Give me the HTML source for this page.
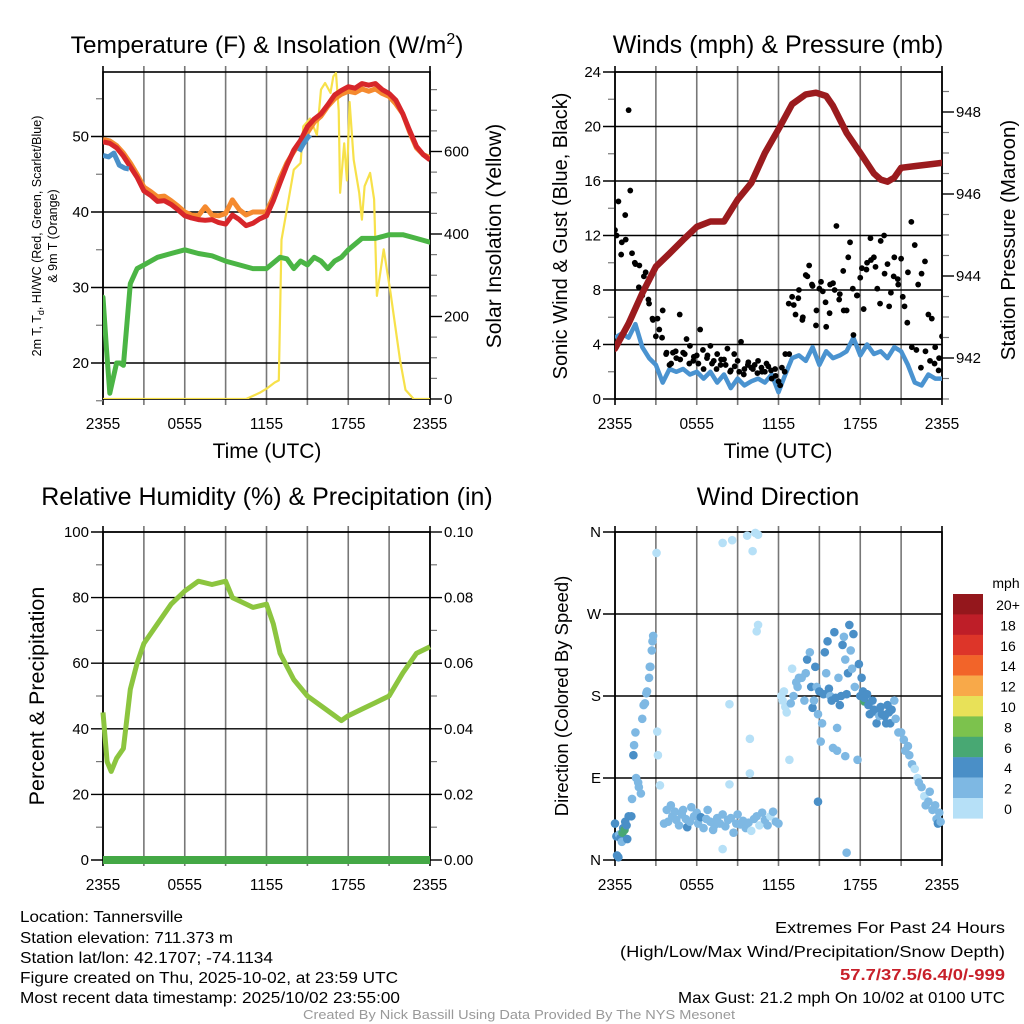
<!DOCTYPE html>
<html><head><meta charset="utf-8"><style>
html,body{margin:0;padding:0;background:#fff;}
svg{display:block;font-family:"Liberation Sans",sans-serif;}
</style></head><body>
<svg id="chart" width="1024" height="1024" viewBox="0 0 1024 1024" xmlns="http://www.w3.org/2000/svg">
<rect width="1024" height="1024" fill="#fff"/>
<g id="g1"></g>
<g id="g2"></g>
<g id="g3"></g>
<g id="g4"></g>

<text x="267" y="53" font-size="24.5" text-anchor="middle">Temperature (F) &amp; Insolation (W/m<tspan dy="-9" font-size="16">2</tspan><tspan dy="9">)</tspan></text>
<text x="778" y="53" font-size="25" text-anchor="middle">Winds (mph) &amp; Pressure (mb)</text>
<text x="267" y="505" font-size="25" text-anchor="middle">Relative Humidity (%) &amp; Precipitation (in)</text>
<text x="778" y="505" font-size="25" text-anchor="middle">Wind Direction</text>

<text x="267" y="458" font-size="21" text-anchor="middle">Time (UTC)</text>
<text x="778" y="458" font-size="21" text-anchor="middle">Time (UTC)</text>

<text transform="translate(41,236) rotate(-90)" font-size="12.5" text-anchor="middle">2m T, T<tspan dy="3" font-size="9">d</tspan><tspan dy="-3">, HI/WC (Red, Green, Scarlet/Blue)</tspan></text>
<text transform="translate(57,236) rotate(-90)" font-size="12.5" text-anchor="middle">&amp; 9m T (Orange)</text>
<text transform="translate(501,236) rotate(-90)" font-size="21" text-anchor="middle">Solar Insolation (Yellow)</text>
<text transform="translate(567,236) rotate(-90)" font-size="20" text-anchor="middle">Sonic Wind &amp; Gust (Blue, Black)</text>
<text transform="translate(1015,240) rotate(-90)" font-size="20.5" text-anchor="middle">Station Pressure (Maroon)</text>
<text transform="translate(44,696) rotate(-90)" font-size="21.5" text-anchor="middle">Percent &amp; Precipitation</text>
<text transform="translate(568,696) rotate(-90)" font-size="18.5" text-anchor="middle">Direction (Colored By Speed)</text>

<g id="cbar"></g>
<text x="1006" y="588" font-size="14" text-anchor="middle">mph</text>

<g font-size="16" lengthAdjust="spacingAndGlyphs">
<text x="20" y="922" textLength="163" lengthAdjust="spacingAndGlyphs">Location: Tannersville</text>
<text x="20" y="943" textLength="213" lengthAdjust="spacingAndGlyphs">Station elevation: 711.373 m</text>
<text x="20" y="963" textLength="253" lengthAdjust="spacingAndGlyphs">Station lat/lon: 42.1707; -74.1134</text>
<text x="20" y="983" textLength="378" lengthAdjust="spacingAndGlyphs">Figure created on Thu, 2025-10-02, at 23:59 UTC</text>
<text x="20" y="1003" textLength="380" lengthAdjust="spacingAndGlyphs">Most recent data timestamp: 2025/10/02 23:55:00</text>
</g>
<g font-size="16">
<text x="775" y="933" textLength="230" lengthAdjust="spacingAndGlyphs">Extremes For Past 24 Hours</text>
<text x="620" y="957" textLength="385" lengthAdjust="spacingAndGlyphs">(High/Low/Max Wind/Precipitation/Snow Depth)</text>
<text x="840" y="980" textLength="165" lengthAdjust="spacingAndGlyphs" font-weight="bold" fill="#c8202a">57.7/37.5/6.4/0/-999</text>
<text x="678" y="1003" textLength="327" lengthAdjust="spacingAndGlyphs">Max Gust: 21.2 mph On 10/02 at 0100 UTC</text>
</g>
<text x="303" y="1019" font-size="13" textLength="432" lengthAdjust="spacingAndGlyphs" fill="#999">Created By Nick Bassill Using Data Provided By The NYS Mesonet</text>
</svg>
<script>
// ---- data ----
const hourTicks = [0,6,12,18,24];
const hourTickLabels = ["2355","0555","1155","1755","2355"];
const halfHourly = [0,0.5,1,1.5,2,2.5,3,3.5,4,4.5,5,5.5,6,6.5,7,7.5,8,8.5,9,9.5,10,10.5,11,11.5,12,12.5,13,13.5,14,14.5,15,15.5,16,16.5,17,17.5,18,18.5,19,19.5,20,20.5,21,21.5,22,22.5,23,23.5,24];
const temp2m = [49.3,49.1,48.5,47.4,46,44.6,42.8,42.2,41.4,41.5,41,40.3,39.5,39.2,39,38.9,39,38.6,38.4,39.6,39,38.2,38.5,39.1,39.5,41.5,43.9,46.2,48.2,49.5,51.3,52.3,53,54.2,55.5,56.1,56.6,56.4,57,56.8,57,56.2,55.7,54.8,53,50.8,48.7,47.6,46.9];
const temp9m = [49.6,49.4,48.8,47.8,46.5,45,43.3,42.7,42,42.1,41.5,40.8,40,39.6,39.5,40.7,39.6,39.5,39.8,41.6,40.3,39.6,40,40,40,42,44.5,46.5,48,49.3,50.5,51.9,52.7,54,55,55.6,56,55.8,56.3,56,56.3,55.7,55.3,54.3,53,50.6,48.5,47.6,47.2];
const hiwcTime = [0,0.4,0.8,1.2,1.6,1.9];
const hiwc = [47.5,47.3,47.8,46.2,45.8,45.7];
const hiwcTime2 = [14.4,14.7,15,15.2];
const hiwc2 = [48,49,49.8,50.2];
const dewTime = [0,0.25,0.5,0.75,1,1.25,1.5,1.75,2,2.5,3,4,5,6,7,8,9,10,11,12,13,13.5,14,14.5,15,15.5,16,16.5,17,17.5,18,19,20,21,22,23,24];
const dewpt = [28.7,22,16,18,20,20,19.7,25,30.5,32.5,33,34,34.5,35,34.5,34.2,33.5,33,32.5,32.5,34,33.8,32.5,33.5,33,34,33.5,32.5,33.5,34,35,36.5,36.5,37,37,36.5,36];
const solarTime = [0,10.5,11.5,12,12.6,12.9,13.1,13.5,14,14.5,14.7,15.2,15.7,16,16.3,16.7,16.9,17.1,17.3,17.4,17.7,17.9,18.1,18.4,18.8,19,19.2,19.6,19.9,20.1,20.6,21.1,21.8,22.2,22.8,24];
const solar = [0,0,15,25,40,45,386,460,556,572,661,680,640,750,766,742,782,790,700,500,620,530,720,580,500,435,516,548,484,250,363,258,95,22,0,0];
const pressureTime = [0,1,2,3,4,5,6,7,8,9,10,11,12,13,14,14.75,15.5,16,17,18,19,19.5,20,20.5,21,22,23,24];
const pressure = [942.23,942.84,943.58,944.23,944.55,944.88,945.2,945.33,945.33,945.86,946.27,947,947.58,948.19,948.43,948.47,948.39,948.15,947.49,947,946.5,946.35,946.3,946.4,946.64,946.68,946.72,946.76];
const windTime = [0,0.5,1,1.5,2,2.5,3,3.5,4,4.5,5,5.5,6,6.5,7,7.5,8,8.5,9,9.5,10,10.5,11,11.5,12,12.5,13,13.5,14,14.5,15,15.5,16,16.5,17,17.5,18,18.5,19,19.5,20,20.5,21,21.5,22,22.5,23,23.5,24];
const wind = [4.5,4.8,4.5,5.5,3.8,3,2.5,1.2,2.2,2,2.2,1.8,2,1.5,2,1.2,1.8,0.8,1.5,1,1.3,1.5,1.2,1.8,0.5,1.8,3,3.2,2.8,3.8,2.5,3.5,3,3.2,3.5,4.5,3.2,4,3.3,3.5,3,3.8,3.5,2.5,1.2,1,1.8,1.5,1.5];
const gusts = [12.4,14.5,11.5,13.5,21.2,10.7,9.9,8.2,7.6,9.3,7.0,5.9,4.6,5.1,6.5,3.3,2.5,3.4,3.0,6.2,3.4,4.4,3.9,2.8,3.2,5.1,2.2,3.0,3.9,2.8,3.3,2.5,2.9,3.7,2.1,3.3,2.8,4.2,2.2,2.5,2.3,2.5,2.8,2.3,2.0,2.4,1.5,2.2,1.3,2.3,3.3,7.0,7.5,6.2,8.0,5.8,9.1,9.8,8.3,5.4,8.1,7.9,5.3,6.3,8.5,12.7,7.7,9.4,6.5,11.5,4.7,7.6,8.9,6.6,10.0,11.8,10.4,8.1,11.6,12.0,9.9,7.8,10.4,8.8,10.3,6.8,9.3,13.0,11.3,8.4,9.2,10.1,6.2,5.9,3.8,2.1,4.6];
const gusts2 = [12,10.6,11.7,15.3,10,9.8,9,7.3,5.8,5.9,4.5,3.4,2.6,3.5,2.9,3.3,2.6,3.1,2.6,3.6,3.2,2.6,2.2,2.9,2.5,2.0,2.4,2.0,1.8,2.7,2.2,1.9,2.0,2.6,2.1,1.7,1.0,2.0,3.3,6.9,7.4,6.0,9.0,8.4,6.5,8.6,7.1,8.4,8.0,7.3,6.5,10.4,8.1,7.6,9.6,9.5,10.2,9.7,7.0,9.2,6.8,9.0,8.4,7.5,5.6,3.8,3.6,2.3,3.5,2.8,2.6,3.0];
const rhTime = [0,0.3,0.6,1,1.5,2,2.5,3,4,5,6,7,8,9,9.5,10,11,12,12.5,13,14,15,16,17,17.5,18,19,20,21,22,23,24];
const rh = [45,30,27,31,34,52,60,66,72,78,82,85,84,85,80,79,77,78,72,63,55,50,47,44,42.5,44,46,48,50,57,63,65];
const precipTime = [0,24];
const precip = [0,0];
const wdTime = [0,0.1,0.15,0.25,0.3,0.4,0.5,0.55,0.6,0.7,0.75,0.85,0.9,1.0,1.2,1.25,
 1.35,1.4,1.5,1.55,1.7,1.75,1.9,2.0,2.1,2.2,2.3,2.35,2.5,2.55,2.6,2.7,2.75,2.8,
 3.05,3.1,3.15,3.3,
 3.6,3.8,3.9,4.1,4.2,4.4,4.5,4.7,4.9,5.0,5.2,5.3,5.5,5.6,5.8,6.0,6.1,6.3,6.5,6.7,6.8,7.0,7.2,7.3,7.5,7.7,7.9,8.1,8.3,8.5,8.7,8.9,9.0,9.2,9.4,9.6,9.8,10.0,10.2,10.4,10.6,10.8,11.0,11.2,11.4,11.6,11.8,12.0,
 7.9,8.6,9.7,10.3,10.5,10.1,10.5,10.4,8.4,9.9,9.9,8.4,7.9,
 12.2,12.3,12.4,12.5,12.6,12.8,12.9,13.0,13.1,13.3,13.4,13.5,13.7,13.9,14.0,
 14.1,14.3,14.4,14.5,14.6,14.7,14.8,14.9,15.0,15.1,15.2,15.3,15.4,15.5,15.6,15.7,15.8,15.9,16.0,16.1,16.2,16.3,16.4,16.5,16.6,16.7,16.8,16.9,17.0,17.1,17.2,17.3,17.4,17.5,17.6,17.8,17.9,18.0,
 14.9,17.0,16.9,16.3,18.3,
 18.1,18.2,18.3,18.5,18.6,18.7,18.9,19.0,19.1,19.2,19.4,19.5,19.6,19.8,19.9,20.0,20.1,20.2,20.3,20.5,20.6,20.8,21.0,21.2,21.3,21.5,21.6,21.8,22.0,22.2,22.3,22.5,22.7,22.8,23.0,23.1,23.3,23.5,23.6,23.7,23.8,23.9];
const wdDir = [40,26,5,3,28,24,20,30,35,33,42,38,23,48,48,67,
 115,126,140,90,85,80,73,155,170,172,183,185,200,212,212,230,240,246,
 337,141,115,82,
 40,55,42,60,48,53,44,38,50,55,45,36,42,58,48,52,40,47,35,45,55,42,33,38,46,40,50,37,44,46,30,40,50,39,43,35,41,32,45,48,38,52,44,38,48,53,42,40,
 348,351,356,359,357,339,258,251,171,133,95,83,12,
 180,175,185,168,162,110,172,210,180,195,190,200,200,175,205,
 220,228,190,167,175,212,190,160,185,130,150,182,228,205,240,188,180,175,123,250,178,145,200,170,180,236,245,220,182,205,258,230,210,248,190,110,215,180,
 64,8,114,120,174,
 200,185,178,182,170,160,175,165,163,150,158,168,160,158,150,170,162,150,165,175,155,140,140,132,120,125,115,105,100,90,85,80,70,60,64,75,55,60,45,40,52,42];
const wdSpeed = [4,4,4,4,3,4,3,6,4,6,4,4,4,4,4,3,
 4,3,3,3,3,3,3,3,3,3,3,3,3,3,3,3,3,3,
 1,1,1,1,
 3,3,3,2,3,3,3,2,3,3,3,4,3,3,3,3,3,4,3,3,3,3,3,2,3,3,2,3,3,3,2,3,3,3,3,2,3,1,2,2,1,3,2,2,1,2,3,3,
 1,1,1,1,1,1,1,1,1,1,1,1,1,
 1,1,1,1,1,1,3,1,3,3,3,3,3,3,3,
 4,3,4,4,3,4,3,3,4,2,3,4,4,3,4,4,3,4,3,4,4,3,3,4,4,4,3,3,4,4,4,3,3,4,3,3,4,4,
 4,3,2,3,6,
 4,5,4,4,4,4,4,4,4,4,3,4,4,4,4,4,4,4,4,3,3,3,3,3,3,3,2,2,1,1,2,2,1,2,2,2,3,3,2,4,2,2];
const speedLabels = ["20+","18","16","14","12","10","8","6","4","2","0"];
const speedColors = ["#94171c","#be1e28","#dd3529","#f26429","#f8a949","#e8e158","#7cc24d","#48a873","#4a8fc7","#7eb8e3","#b6e0f7"];

// ---- helpers ----
const NS = "http://www.w3.org/2000/svg";
function mk(tag, attrs, parent){ const e=document.createElementNS(NS,tag); for(const k in attrs) e.setAttribute(k,attrs[k]); parent.appendChild(e); return e; }
function xScale(x0,x1){ return h => x0 + (x1-x0)*h/24; }
function linScale(v0,p0,v1,p1){ return v => p0 + (v-v0)*(p1-p0)/(v1-v0); }
function linePath(ts, vs, xf, yf){ let d=""; ts.forEach((t,i)=>{ d += (i?"L":"M")+xf(t).toFixed(1)+","+yf(vs[i]).toFixed(1); }); return d; }

function frame(g, x0,x1,y0,y1, leftTicks, leftLbl, lyf, leftMinor, rightTicks, rightLbl, ryf, rightMinor, xf, xlabY){
  for(let h=0; h<=24; h+=3){
    const l = mk("line",{x1:xf(h),x2:xf(h),y1:y0-6,y2:y1+6,stroke:(h%24===0)?"#000":"#777","stroke-width":1.6},g);
    
    
  }
  leftTicks.forEach((v,i)=>{
    const y=lyf(v);
    const l=mk("line",{x1:x0-12,x2:x1,y1:y,y2:y,stroke:"#000","stroke-width":1.4},g);
    
    
    const t=mk("text",{x:x0-14,y:y+5,"font-size":15,"text-anchor":"end"},g);
    t.textContent=leftLbl[i];
    
    
  });
  leftMinor.forEach(v=>{ const l=mk("line",{x1:x0-7,x2:x0,y1:lyf(v),y2:lyf(v),stroke:"#777","stroke-width":1.2},g);
      });
  if(rightTicks){
    rightTicks.forEach((v,i)=>{
      const y=ryf(v);
      const l=mk("line",{x1:x1,x2:x1+12,y1:y,y2:y,stroke:"#000","stroke-width":1.4},g);
      
      
      const t=mk("text",{x:x1+14,y:y+5,"font-size":15},g);
      t.textContent=rightLbl[i];
      
      
    });
    rightMinor.forEach(v=>{ const l=mk("line",{x1:x1,x2:x1+7,y1:ryf(v),y2:ryf(v),stroke:"#777","stroke-width":1.2},g);
        });
  }
  const r=mk("rect",{x:x0,y:y0,width:x1-x0,height:y1-y0,fill:"none",stroke:"#000","stroke-width":1.6},g);
  
  
  hourTicks.forEach((h,i)=>{
    const t=mk("text",{x:xf(h),y:xlabY,"font-size":15.5,"text-anchor":"middle"},g);
    t.textContent=hourTickLabels[i];
    
    
  });
}
function range(a,b,s){ const r=[]; for(let v=a; v<=b+1e-9; v+=s) r.push(+v.toFixed(4)); return r; }

// ---- panel 1 ----
(function(){
  const g=document.getElementById("g1");
  const x0=103,x1=430,y0=72,y1=399;
  const xf=xScale(x0,x1), yT=linScale(20,363,50,136.5), yS=linScale(0,399,600,151.5);
  frame(g,x0,x1,y0,y1,[20,30,40,50],["20","30","40","50"],yT,[15,25,35,45,55],
    [0,200,400,600],["0","200","400","600"],yS,[50,100,150,250,300,350,450,500,550,650,700,750],xf,429);
  const cl=mk("clipPath",{id:"c1"},g); mk("rect",{x:x0,y:y0-8,width:x1-x0,height:y1-y0+8},cl);
  const s=mk("g",{"clip-path":"url(#c1)"},g);
  const p1=mk("path",{d:linePath(solarTime,solar,xf,yS),fill:"none",stroke:"#f7e14a","stroke-width":2.2,"stroke-linejoin":"round"},s);
   
  const p2=mk("path",{d:linePath(dewTime,dewpt,xf,yT),fill:"none",stroke:"#4bb545","stroke-width":5,"stroke-linejoin":"round","stroke-linecap":"round"},s);
   
  const p3=mk("path",{d:linePath(halfHourly,temp9m,xf,yT),fill:"none",stroke:"#f58a2f","stroke-width":5,"stroke-linejoin":"round"},s);
   
  const p4=mk("path",{d:linePath(halfHourly,temp2m,xf,yT),fill:"none",stroke:"#d7262a","stroke-width":5,"stroke-linejoin":"round"},s);
   
  const p5=mk("path",{d:linePath(hiwcTime,hiwc,xf,yT),fill:"none",stroke:"#4a90c9","stroke-width":5,"stroke-linejoin":"round"},s);
   
  const p6=mk("path",{d:linePath(hiwcTime2,hiwc2,xf,yT),fill:"none",stroke:"#4a90c9","stroke-width":5,"stroke-linejoin":"round"},s);
   
})();

// ---- panel 2 ----
(function(){
  const g=document.getElementById("g2");
  const x0=615,x1=942,y0=72,y1=399;
  const xf=xScale(x0,x1), yW=linScale(0,399,24,72), yP=linScale(942,358,948,112);
  frame(g,x0,x1,y0,y1,[0,4,8,12,16,20,24],["0","4","8","12","16","20","24"],yW,[2,6,10,14,18,22],
    [942,944,946,948],["942","944","946","948"],yP,range(941,949,0.5).filter(v=>v%2!==0 && v<=948.9),xf,429);
  const cl=mk("clipPath",{id:"c2"},g); mk("rect",{x:x0,y:y0,width:x1-x0,height:y1-y0},cl);
  const s=mk("g",{"clip-path":"url(#c2)"},g);
  const p=mk("path",{d:linePath(windTime,wind,xf,yW),fill:"none",stroke:"#4a93d0","stroke-width":4.5,"stroke-linejoin":"round"},s);
   
  gusts.forEach((v,i)=>{
    const c=mk("circle",{cx:xf(i*0.25),cy:yW(v),r:2.9,fill:"#000"},s);
    
    
  });
  gusts2.forEach((v,i)=>{
    const c=mk("circle",{cx:xf(i/3+0.12),cy:yW(v),r:2.9,fill:"#000"},s);
    
    
  });
  const pp=mk("path",{d:linePath(pressureTime,pressure,xf,yP),fill:"none",stroke:"#9b1b1e","stroke-width":6.5,"stroke-linejoin":"round","stroke-linecap":"round"},s);
   
})();

// ---- panel 3 ----
(function(){
  const g=document.getElementById("g3");
  const x0=103,x1=430,y0=532,y1=860;
  const xf=xScale(x0,x1), yR=linScale(0,860,100,532), yPr=linScale(0,860,0.1,532);
  frame(g,x0,x1,y0,y1,[0,20,40,60,80,100],["0","20","40","60","80","100"],yR,[10,30,50,70,90],
    [0,0.02,0.04,0.06,0.08,0.1],["0.00","0.02","0.04","0.06","0.08","0.10"],yPr,[0.01,0.03,0.05,0.07,0.09],xf,890);
  const p=mk("path",{d:linePath(rhTime,rh,xf,yR),fill:"none",stroke:"#8cc53f","stroke-width":5,"stroke-linejoin":"round"},g);
   
  const q=mk("path",{d:linePath(precipTime,precip,xf,yPr),fill:"none",stroke:"#44a845","stroke-width":8},g);
   
})();

// ---- panel 4 ----
(function(){
  const g=document.getElementById("g4");
  const x0=615,x1=942,y0=532,y1=860;
  const xf=xScale(x0,x1), yD=linScale(0,860,360,532);
  frame(g,x0,x1,y0,y1,[0,90,180,270,360],["N","E","S","W","N"],yD,[],null,null,null,null,xf,890);
  const cl=mk("clipPath",{id:"c4"},g); mk("rect",{x:x0-6,y:y0-6,width:x1-x0+12,height:y1-y0+12},cl);
  const s=mk("g",{"clip-path":"url(#c4)"},g);
  wdTime.forEach((t,i)=>{
    const idx=Math.max(0,10-Math.min(10,Math.floor(wdSpeed[i]/2)));
    const c=mk("circle",{cx:xf(t),cy:yD(wdDir[i]),r:4.3,fill:speedColors[idx]},s);
    
    
  });
  const cb=document.getElementById("cbar");
  speedLabels.forEach((lb,i)=>{
    const r=mk("rect",{x:953,y:594+i*20.4,width:30,height:20.6,fill:speedColors[i]},cb);
    
    
    const t=mk("text",{x:1008,y:610+i*20.4,"font-size":14,"text-anchor":"middle"},cb);
    t.textContent=lb;
    
    
  });
})();
</script>
</body></html>
